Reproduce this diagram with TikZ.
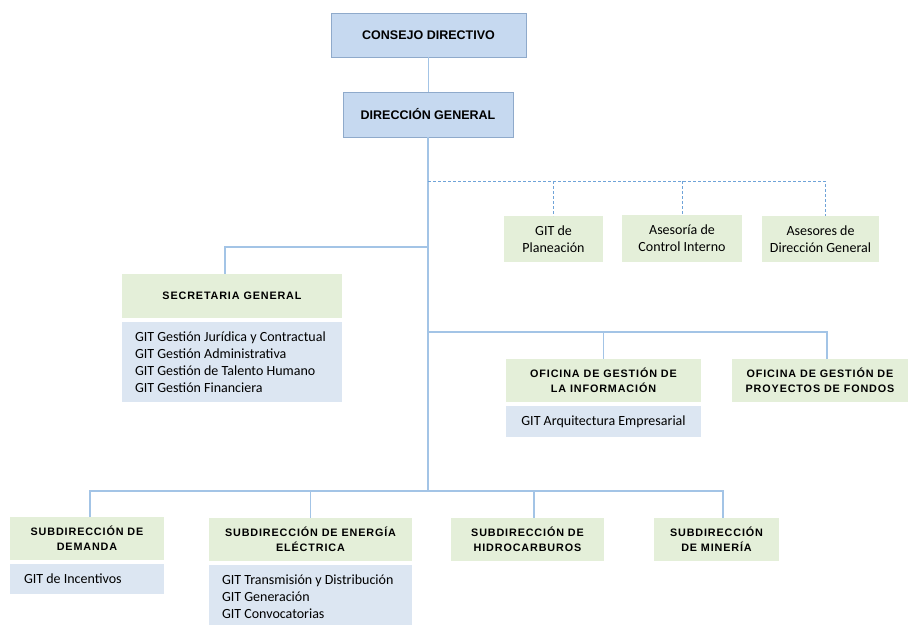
\documentclass[tikz,border=0pt]{standalone}
\usepackage{fontspec}
\setmainfont{Carlito}
\newfontfamily\headfont{Liberation Sans}
\newfontfamily\capsfont[LetterSpace=8]{Liberation Sans}
\usetikzlibrary{positioning}
\definecolor{topblue}{HTML}{C6D9F0}
\definecolor{topedge}{HTML}{8FAACB}
\definecolor{unitgreen}{HTML}{E4EFD9}
\definecolor{gitblue}{HTML}{DCE6F2}
\definecolor{linkblue}{HTML}{A3C4E6}
\definecolor{dashblue}{HTML}{6FA3D8}

\begin{document}
\begin{tikzpicture}[
  x=1pt, y=-1pt,
  font=\fontsize{14}{17}\selectfont,
  top/.style={draw=topedge, line width=0.8pt, fill=topblue, inner sep=0pt, outer sep=0pt, font=\headfont\bfseries\fontsize{12.5}{15}\selectfont},
  unit/.style={fill=unitgreen, inner sep=0pt, outer sep=0pt, align=center, minimum height=43pt, font=\capsfont\bfseries\fontsize{10.8}{15}\selectfont},
  staff/.style={fill=unitgreen, inner sep=0pt, outer sep=0pt, align=center, minimum height=46pt},
  gitlist/.style={fill=gitblue, inner xsep=13pt, inner ysep=0pt, outer sep=0pt, align=flush left},
  link/.style={draw=linkblue, line width=1.4pt},
  dashlink/.style={draw=dashblue, line width=0.8pt, dash pattern=on 3pt off 2pt}
]
\useasboundingbox[fill=white] (0,0) rectangle (909,624);

\node[top, minimum width=195pt, minimum height=44pt] (consejo) at (428.5,35) {CONSEJO DIRECTIVO};
\node[top, minimum width=170pt, minimum height=45pt] (direccion) at (428,114.5) {DIRECCIÓN GENERAL};

\node[staff, minimum width=99pt] (planeacion) at (553.5,239) {GIT de\\Planeación};
\node[staff, minimum width=120pt, minimum height=47pt] (control) at (682,238.5) {Asesoría de\\Control Interno};
\node[staff, minimum width=117pt] (asesores) at (820.5,239) {Asesores de\\Dirección General};

\node[unit, minimum width=220pt, minimum height=44pt] (secretaria) at (232,296) {SECRETARIA GENERAL};
\node[gitlist, below=4pt of secretaria, minimum height=80pt, text width=194pt] (secretariagit)
  {GIT Gestión Jurídica y Contractual\\GIT Gestión Administrativa\\GIT Gestión de Talento Humano\\GIT Gestión Financiera};

\node[unit, minimum width=195pt] (info) at (603.5,380.5) {OFICINA DE GESTIÓN DE\\LA INFORMACIÓN};
\node[gitlist, below=4pt of info, minimum width=195pt, minimum height=31pt, align=center] (infogit) {GIT Arquitectura Empresarial};
\node[unit, minimum width=176pt] (proyectos) at (820,380.5) {OFICINA DE GESTIÓN DE\\PROYECTOS DE FONDOS};

\node[unit, minimum width=154pt] (demanda) at (87,538.5) {SUBDIRECCIÓN DE\\DEMANDA};
\node[gitlist, below=4pt of demanda, minimum height=30pt, inner xsep=14pt, text width=126pt] (demandagit) {GIT de Incentivos};
\node[unit, minimum width=203pt] (energia) at (310.5,539.5) {SUBDIRECCIÓN DE ENERGÍA\\ELÉCTRICA};
\node[gitlist, below=4pt of energia, minimum height=64pt, text width=177pt] (energiagit)
  {GIT Transmisión y Distribución\\GIT Generación\\GIT Convocatorias};
\node[unit, minimum width=153pt] (hidrocarburos) at (527.5,539.5) {SUBDIRECCIÓN DE\\HIDROCARBUROS};
\node[unit, minimum width=125pt] (mineria) at (716.5,539.5) {SUBDIRECCIÓN\\DE MINERÍA};

\coordinate (dashbus) at (428,181);
\coordinate (secbus) at (428,247);
\coordinate (ofibus) at (428,332);
\coordinate (subbus) at (428,491);

\draw[link] (consejo.south) -- (consejo.south |- direccion.north);
\draw[link] (direccion.south) -- (subbus);
\draw[dashlink] (dashbus) -| ([xshift=4.5pt]asesores.north);
\draw[dashlink] (planeacion.north |- dashbus) -- (planeacion.north);
\draw[dashlink] (control.north |- dashbus) -- (control.north);
\draw[link] (secbus) -| ([xshift=-7pt]secretaria.north);
\draw[link] (ofibus) -| ([xshift=7pt]proyectos.north);
\draw[link] (info.north |- ofibus) -- (info.north);
\draw[link] ([xshift=3pt]demanda.north) |- (subbus) -| ([xshift=6.5pt]mineria.north);
\draw[link] (energia.north |- subbus) -- (energia.north);
\draw[link] ([xshift=6.5pt]hidrocarburos.north |- subbus) -- ([xshift=6.5pt]hidrocarburos.north);

\end{tikzpicture}
\end{document}
